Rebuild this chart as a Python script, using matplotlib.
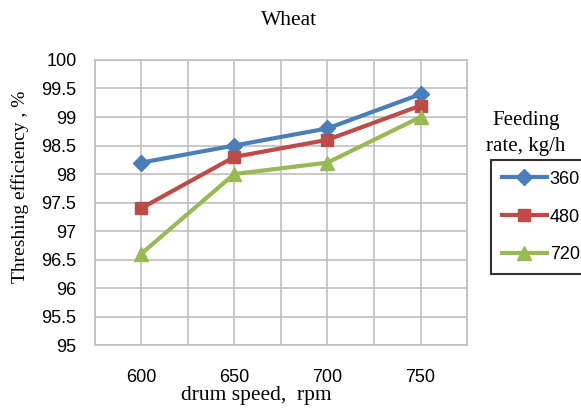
import numpy as np
import matplotlib.pyplot as plt

# drum speed (rpm) and threshing efficiency (%) per feeding rate
speed = [600, 650, 700, 750]
eff_360 = [98.2, 98.5, 98.8, 99.4]
eff_480 = [97.4, 98.3, 98.6, 99.2]
eff_720 = [96.6, 98.0, 98.2, 99.0]
rates = ['360', '480', '720']

serif = 'Liberation Serif'
sans = 'Liberation Sans'

fig = plt.figure(figsize=(5.81, 4.08), dpi=100)
ax = fig.add_axes([0.1627, 0.154, 0.6413, 0.699])

ax.plot(speed, eff_360, color='#4A7EBB', lw=3, marker='D', ms=8, label=rates[0])
ax.plot(speed, eff_480, color='#BE4B48', lw=3, marker='s', ms=9, label=rates[1])
ax.plot(speed, eff_720, color='#98B954', lw=3, marker='^', ms=10, label=rates[2])

# grid every 25 rpm, labels only on the measured speeds
ticks = np.arange(575, 776, 25)
ax.set_xlim(575, 775)
ax.set_ylim(95, 100)
ax.set_xticks(ticks)
ax.set_xticklabels([str(v) if v in speed else '' for v in ticks])
ax.set_yticks(np.arange(95, 100.01, 0.5))
ax.set_yticklabels(['95', '95.5', '96', '96.5', '97', '97.5', '98', '98.5', '99', '99.5', '100'])
ax.tick_params(length=0, labelsize=13)
ax.tick_params(axis='y', pad=13)
ax.tick_params(axis='x', pad=17)
for lab in ax.get_xticklabels() + ax.get_yticklabels():
    lab.set_family(sans)

ax.grid(True, color='#BFBFBF', lw=1.2)
ax.set_axisbelow(True)
for s in ax.spines.values():
    s.set_color('#BFBFBF')
    s.set_linewidth(1.2)

ax.set_xlabel('drum speed,  rpm', family=serif, fontsize=15.5, va='center')
ax.xaxis.set_label_coords(0.435, -0.175)
ax.set_ylabel('Threshing efficiency , %', family=serif, fontsize=14, va='center')
ax.yaxis.set_label_coords(-0.2, 0.556)
fig.text(0.498, 0.949, 'Wheat', family=serif, fontsize=15.5, ha='center', va='center')

fig.text(0.905, 0.673, 'Feeding\nrate, kg/h', family=serif, fontsize=15, ha='center',
         va='center', linespacing=1.5)
leg = fig.legend(loc='upper left', bbox_to_anchor=(0.845, 0.608), fancybox=False,
                 edgecolor='black', fontsize=13, handlelength=2.5, handletextpad=0.15,
                 labelspacing=1.15, borderpad=0.6, borderaxespad=0)
leg.get_frame().set_linewidth(1.5)
for t in leg.get_texts():
    t.set_family(sans)

fig.savefig('out.png', dpi=100)
